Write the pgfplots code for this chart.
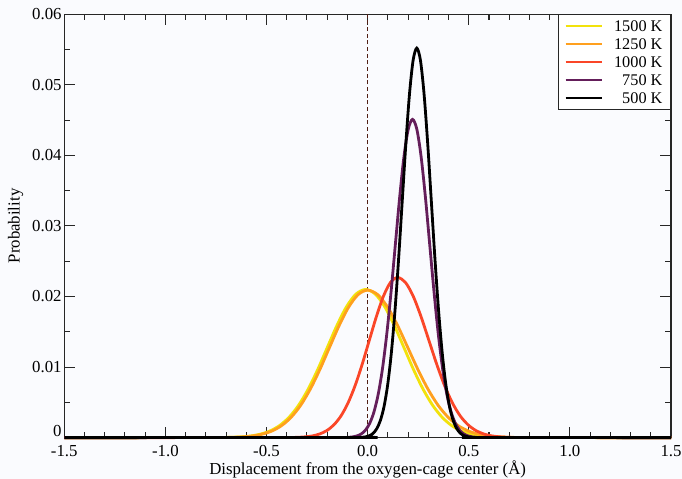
\documentclass[border=0pt]{standalone}
\usepackage{fontspec}
\setmainfont{Liberation Serif}
\usepackage{pgfplots}
\pgfplotsset{compat=1.18}
\usetikzlibrary{backgrounds}

\definecolor{kfifteen}{RGB}{242,226,12}
\definecolor{ktwelve}{RGB}{255,160,30}
\definecolor{kten}{RGB}{250,70,40}
\definecolor{kseven}{RGB}{100,30,90}
\definecolor{dashcol}{RGB}{80,30,20}
\definecolor{bgcol}{RGB}{250,251,254}

\begin{document}
\begin{tikzpicture}
\begin{axis}[
  scale only axis, width=455pt, height=317.5pt,
  xmin=-1.5, xmax=1.5, ymin=0, ymax=0.06,
  clip=false,
  scaled y ticks=false, scaled x ticks=false,
  xtick={-1.5,-1,-0.5,0,0.5,1,1.5},
  xticklabels={-1.5,-1.0,-0.5,0.0,0.5,1.0,1.5},
  ytick={0,0.01,0.02,0.03,0.04,0.05,0.06},
  yticklabels={\raisebox{5pt}[8.5pt][0pt]{0},0.01,0.02,0.03,0.04,0.05,0.06},
  minor x tick num=4, minor y tick num=1,
  tick align=inside, xtick pos=both, ytick pos=both,
  xticklabel pos=lower, yticklabel pos=left,
  major tick length=8pt, minor tick length=4.5pt,
  axis line style={line width=1pt, black!85},
  every tick/.style={black!85, line width=0.8pt},
  tick label style={font=\fontsize{12.6}{14}\selectfont},
  xticklabel style={anchor=base, yshift=-14pt},
  yticklabel style={xshift=1.5pt},
  xlabel={Displacement from the oxygen-cage center (Å)},
  ylabel={Probability},
  xlabel style={at={(axis description cs:0.5,-0.0866)}, anchor=base, font=\fontsize{12.6}{14}\selectfont},
  ylabel style={at={(axis description cs:-0.0804,0.5)}, anchor=center, font=\fontsize{12.6}{14}\selectfont},
  legend cell align=right,
  legend image code/.code={\draw[#1, line width=1.6pt] (0pt,0pt) -- (27pt,0pt);},
  legend style={at={(1,1)}, anchor=north east, draw=black!85, line width=0.8pt, fill=white,
    font=\fontsize{12.2}{14}\selectfont, inner xsep=4.5pt, inner ysep=1.8pt,
    row sep=0pt, column sep=7pt,
    nodes={inner sep=1.5pt, text height=9pt, text depth=1.5pt}},
]
% reference line at the cage centre
\addplot[forget plot, dashcol, line width=0.8pt, dash pattern=on 3pt off 2pt] coordinates {(0,0) (0,0.06)};

\addplot[kfifteen, line width=2.1pt, smooth] coordinates {
(-1.5,0) (-0.77,0.00001) (-0.7225,0.00002) (-0.675,0.00005) (-0.6275,0.00011) (-0.58,0.00023)
(-0.5325,0.00048) (-0.485,0.00092) (-0.4375,0.00167) (-0.39,0.00284) (-0.3425,0.00454)
(-0.295,0.00682) (-0.2475,0.00961) (-0.2,0.01274) (-0.1525,0.01585) (-0.105,0.01853)
(-0.0575,0.02035) (-0.01,0.02100) (0.0375,0.02035) (0.085,0.01853) (0.1325,0.01585)
(0.18,0.01274) (0.2275,0.00961) (0.275,0.00682) (0.3225,0.00454) (0.37,0.00284)
(0.4175,0.00167) (0.465,0.00092) (0.5125,0.00048) (0.56,0.00023) (0.6075,0.00011)
(0.655,0.00005) (0.7025,0.00002) (0.75,0.00001) (1.5,0)};

\addplot[ktwelve, line width=2.1pt, smooth] coordinates {
(-1.5,0) (-0.76,0.00001) (-0.7125,0.00002) (-0.665,0.00005) (-0.6175,0.00011) (-0.57,0.00023)
(-0.5225,0.00048) (-0.475,0.00092) (-0.4275,0.00166) (-0.38,0.00283) (-0.3325,0.00452)
(-0.285,0.00679) (-0.2375,0.00957) (-0.19,0.01268) (-0.1425,0.01578) (-0.095,0.01844)
(-0.0475,0.02026) (0,0.02090) (0.05,0.02026) (0.1,0.01844) (0.15,0.01578) (0.2,0.01268)
(0.25,0.00957) (0.3,0.00679) (0.35,0.00452) (0.4,0.00283) (0.45,0.00166) (0.5,0.00092)
(0.55,0.00048) (0.6,0.00023) (0.65,0.00011) (0.7,0.00005) (0.75,0.00002) (0.8,0.00001) (1.5,0)};

\addplot[kten, line width=2.1pt, smooth] coordinates {
(-1.5,0) (-0.412,0.00001) (-0.377,0.00002) (-0.342,0.00005) (-0.307,0.00012) (-0.272,0.00025)
(-0.237,0.00052) (-0.202,0.00100) (-0.167,0.00181) (-0.132,0.00307) (-0.097,0.00491)
(-0.062,0.00737) (-0.027,0.01039) (0.008,0.01377) (0.043,0.01713) (0.078,0.02003)
(0.113,0.02200) (0.148,0.02270) (0.1868,0.02200) (0.2255,0.02003) (0.2643,0.01713)
(0.303,0.01377) (0.3418,0.01039) (0.3805,0.00737) (0.4193,0.00491) (0.458,0.00307)
(0.4968,0.00181) (0.5355,0.00100) (0.5743,0.00052) (0.613,0.00025) (0.6518,0.00012)
(0.6905,0.00005) (0.7293,0.00002) (0.768,0.00001) (1.5,0)};

\addplot[kseven, line width=2.1pt, smooth] coordinates {
(-1.5,0) (-0.118,0.00002) (-0.0968,0.00004) (-0.0755,0.00010) (-0.0543,0.00023) (-0.033,0.00050)
(-0.0118,0.00103) (0.0095,0.00198) (0.0308,0.00359) (0.052,0.00610) (0.0733,0.00975)
(0.0945,0.01464) (0.1158,0.02065) (0.137,0.02735) (0.1583,0.03404) (0.1795,0.03980)
(0.2008,0.04371) (0.222,0.04510) (0.2433,0.04371) (0.2645,0.03980) (0.2858,0.03404)
(0.307,0.02735) (0.3283,0.02065) (0.3495,0.01464) (0.3708,0.00975) (0.392,0.00610)
(0.4133,0.00359) (0.4345,0.00198) (0.4558,0.00103) (0.477,0.00050) (0.4983,0.00023)
(0.5195,0.00010) (0.5408,0.00004) (0.562,0.00002) (1.5,0)};

\addplot[black, line width=2.1pt, smooth] coordinates {
(-1.5,0) (-0.045,0.00002) (-0.027,0.00005) (-0.009,0.00012) (0.009,0.00028) (0.027,0.00061)
(0.045,0.00126) (0.063,0.00243) (0.081,0.00439) (0.099,0.00747) (0.117,0.01194)
(0.135,0.01792) (0.153,0.02527) (0.171,0.03348) (0.189,0.04167) (0.207,0.04871)
(0.225,0.05350) (0.243,0.05520) (0.261,0.05350) (0.279,0.04871) (0.297,0.04167)
(0.315,0.03348) (0.333,0.02527) (0.351,0.01792) (0.369,0.01194) (0.387,0.00747)
(0.405,0.00439) (0.423,0.00243) (0.441,0.00126) (0.459,0.00061) (0.477,0.00028)
(0.495,0.00012) (0.513,0.00005) (0.531,0.00002) (1.5,0)};

\legend{1500 K, 1250 K, 1000 K, 750 K, 500 K}
\end{axis}
\pgfresetboundingbox
\begin{scope}[on background layer]
\fill[bgcol] ([xshift=-48.2pt,yshift=-31pt]current axis.south west) rectangle ([xshift=8.25pt,yshift=10.7pt]current axis.north east);
\end{scope}
\end{tikzpicture}
\end{document}
